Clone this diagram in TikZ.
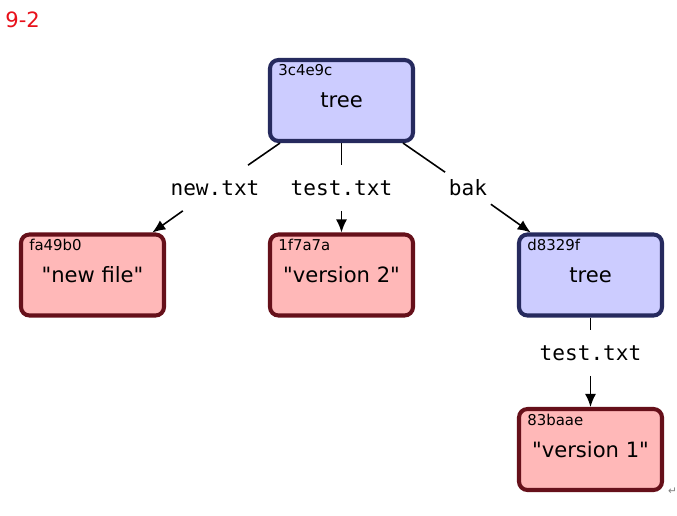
\documentclass[tikz,border=0pt]{standalone}
\usepackage{fontspec}
\setmainfont{DejaVu Sans}[Ligatures=TeXOff]
\setmonofont{DejaVu Sans Mono}
\usetikzlibrary{arrows.meta}
\definecolor{treefill}{HTML}{CCCCFF}
\definecolor{treeline}{HTML}{262A5E}
\definecolor{blobfill}{HTML}{FFB8B8}
\definecolor{blobline}{HTML}{66101A}
\definecolor{figred}{HTML}{E8101A}
\tikzset{
  obj/.style={rounded corners=0.17cm, line width=2.3pt, minimum width=2.86cm, minimum height=1.62cm, font=\fontsize{12}{14}\selectfont},
  treebox/.style={obj, draw=treeline, fill=treefill},
  blobbox/.style={obj, draw=blobline, fill=blobfill},
  hash/.style={anchor=north west, inner sep=0pt, font=\fontsize{8.5}{10}\selectfont, xshift=0.2cm, yshift=-0.13cm},
  fname/.style={font=\ttfamily\fontsize{12}{14}\selectfont, minimum height=0.9cm, inner xsep=2pt},
  link/.style={line width=0.9pt},
  linkarrow/.style={line width=0.9pt, -{Latex[length=2.6mm,width=2.2mm]}}
}
\begin{document}
\begin{tikzpicture}
\useasboundingbox[fill=white] (0,0) rectangle (13.54,-10.3);
\node[figred, anchor=north west, inner sep=0pt, font=\fontsize{12}{14}\selectfont] (fig) at (0.1,-0.22) {9-2};

\node[treebox] (root) at (6.83,-2.01) {tree};
\node[blobbox] (newfile) at (1.85,-5.5) {"new file"};
\node[blobbox] (ver2) at (6.83,-5.5) {"version 2"};
\node[treebox] (bak) at (11.81,-5.5) {tree};
\node[blobbox] (ver1) at (11.81,-8.99) {"version 1"};

\node[hash] at (root.north west) {3c4e9c};
\node[hash] at (newfile.north west) {fa49b0};
\node[hash] at (ver2.north west) {1f7a7a};
\node[hash] at (bak.north west) {d8329f};
\node[hash] at (ver1.north west) {83baae};

\node[fname] (lnew) at (4.30,-3.76) {new.txt};
\node[fname] (ltest) at (6.83,-3.76) {test.txt};
\node[fname] (lbak) at (9.36,-3.76) {bak};
\node[fname] (lsub) at (11.81,-7.06) {test.txt};

\draw[link] (root) -- (lnew);
\draw[linkarrow] (lnew) -- (newfile);
\draw[link] (root) -- (ltest);
\draw[linkarrow] (ltest) -- (ver2);
\draw[link] (root) -- (lbak);
\draw[linkarrow] (lbak) -- (bak);
\draw[link] (bak) -- (lsub);
\draw[linkarrow] (lsub) -- (ver1);

\node[gray, inner sep=0pt, font=\fontsize{6}{7}\selectfont] (mark) at (13.45,-9.82) {↵};
\end{tikzpicture}
\end{document}
